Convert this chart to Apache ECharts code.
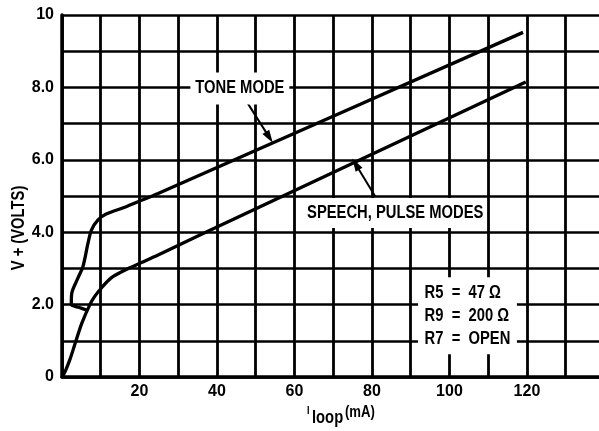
<!DOCTYPE html>
<html>
<head>
<meta charset="utf-8">
<title>V+ vs Iloop</title>
<script src="https://cdn.jsdelivr.net/npm/echarts@6/dist/echarts.min.js"></script>
<style>
	html, body { margin: 0; padding: 0; background: #fff; }
	#chart { width: 599px; height: 431px; }
</style>
</head>
<body>
<div id="chart"></div>
<script>
// tick labels
var xLabelValues = [20, 40, 60, 80, 100, 120];
var yLabelValues = [0, 2, 4, 6, 8, 10];
var yLabelTexts = ['0', '2.0', '4.0', '6.0', '8.0', '10'];

// TONE MODE curve (mA, volts)
var toneCurrent = [6.3, 4.5, 2.4, 2.5, 4.1, 5.4, 6.7, 7.6, 9.3, 11.4, 16.2, 20.5, 24.8, 119];
var toneVoltage = [1.85, 1.92, 2.0, 2.3, 2.73, 3.05, 3.69, 4.06, 4.34, 4.5, 4.69, 4.88, 5.07, 9.52];

// SPEECH, PULSE MODES curve
var speechCurrent = [0, 0.8, 2.1, 3.4, 5.1, 7.2, 8.4, 10.5, 12.7, 16.2, 20.5, 24.8, 35.6, 119.7];
var speechVoltage = [0, 0.15, 0.5, 0.93, 1.48, 2.0, 2.22, 2.5, 2.74, 2.95, 3.16, 3.37, 3.92, 8.15];

var FONT = '"Liberation Sans", Arial, sans-serif';
var NARROW = 0.82; // squeeze text towards a condensed face

function pairs(xs, ys) {
	var out = [];
	for (var i = 0; i < xs.length; i++) out.push([xs[i], ys[i]]);
	return out;
}

function arrow(from, to) {
	return [
		{ coord: from, symbol: 'none' },
		{ coord: to, symbol: 'triangle', symbolSize: [8, 13] }
	];
}

var chart = echarts.init(document.getElementById('chart'), null, { renderer: 'canvas' });
var option = {
	animation: false,
	backgroundColor: '#fff',
	grid: { left: 62, top: 15, right: 0, bottom: 54 },
	xAxis: {
		type: 'value',
		min: 0,
		max: 138.6,
		interval: 10,
		axisLine: { show: true, lineStyle: { color: '#000', width: 3.5 } },
		axisTick: { show: false },
		axisLabel: {
			margin: 7,
			color: '#000',
			fontFamily: FONT,
			fontWeight: 'bold',
			fontSize: 16,
			showMaxLabel: false,
			formatter: function (v) {
				return xLabelValues.indexOf(v) >= 0 ? String(v) : '';
			}
		},
		splitLine: { show: true, showMaxLine: false, lineStyle: { color: '#000', width: 2.8 } }
	},
	yAxis: {
		type: 'value',
		min: 0,
		max: 10,
		interval: 1,
		axisLine: { show: true, lineStyle: { color: '#000', width: 3.5 } },
		axisTick: { show: false },
		axisLabel: {
			margin: 8,
			color: '#000',
			fontFamily: FONT,
			fontWeight: 'bold',
			fontSize: 16,
			formatter: function (v) {
				var i = yLabelValues.indexOf(v);
				return i >= 0 ? yLabelTexts[i] : '';
			}
		},
		splitLine: { show: true, lineStyle: { color: '#000', width: 2.6 } }
	},
	series: [
		{
			name: 'TONE MODE',
			type: 'line',
			data: pairs(toneCurrent, toneVoltage),
			smooth: 0.3,
			symbol: 'none',
			silent: true,
			lineStyle: { color: '#000', width: 3.3 },
			markLine: {
				silent: true,
				label: { show: false },
				lineStyle: { color: '#000', width: 2, type: 'solid' },
				data: [arrow([47.7, 7.6], [53.5, 6.62])]
			}
		},
		{
			name: 'SPEECH, PULSE MODES',
			type: 'line',
			data: pairs(speechCurrent, speechVoltage),
			smooth: 0.3,
			symbol: 'none',
			silent: true,
			lineStyle: { color: '#000', width: 3.3 },
			markLine: {
				silent: true,
				label: { show: false },
				lineStyle: { color: '#000', width: 2, type: 'solid' },
				data: [arrow([80.9, 4.98], [75.8, 5.88])]
			}
		}
	]
};
chart.setOption(option);

// text boxes placed at data coordinates
var notes = [
	{ id: 'tone', text: 'TONE MODE', at: [45.9, 7.97], align: 'center', padding: [6, 6, 6, 6] },
	{ id: 'speech', text: 'SPEECH, PULSE MODES', at: [86.0, 4.53], align: 'center', padding: [5, 4, 5, 4] },
	{ id: 'rbox', text: 'R5  =  47 Ω\nR9  =  200 Ω\nR7  =  OPEN', at: [91.9, 1.69], align: 'left', padding: [4, 8, 4, 8], lineHeight: 23 }
];

var graphics = notes.map(function (n) {
	var p = chart.convertToPixel({ gridIndex: 0 }, n.at);
	return {
		id: n.id,
		type: 'text',
		x: p[0],
		y: p[1],
		scaleX: NARROW,
		z: 10,
		silent: true,
		style: {
			text: n.text,
			fill: '#000',
			font: 'bold 18px ' + FONT,
			align: n.align,
			verticalAlign: 'middle',
			lineHeight: n.lineHeight || 20,
			backgroundColor: '#fff',
			padding: n.padding
		}
	};
});

// axis names
graphics.push(
	{
		id: 'yname', type: 'text', x: 19, y: 228, rotation: Math.PI / 2, scaleX: NARROW, silent: true,
		style: { text: 'V + (VOLTS)', fill: '#000', font: 'bold 18px ' + FONT, align: 'center', verticalAlign: 'middle' }
	},
	{
		id: 'xname-i', type: 'text', x: 307, y: 405, scaleX: NARROW, silent: true,
		style: { text: 'I', fill: '#000', font: 'bold 11px ' + FONT, align: 'left', verticalAlign: 'top' }
	},
	{
		id: 'xname-loop', type: 'text', x: 312, y: 409, scaleX: NARROW, silent: true,
		style: { text: 'loop', fill: '#000', font: 'bold 18px ' + FONT, align: 'left', verticalAlign: 'top' }
	},
	{
		id: 'xname-unit', type: 'text', x: 345, y: 405, scaleX: NARROW, silent: true,
		style: { text: '(mA)', fill: '#000', font: 'bold 16px ' + FONT, align: 'left', verticalAlign: 'top' }
	}
);

chart.setOption({ graphic: graphics });
window.addEventListener('resize', chart.resize);
</script>
</body>
</html>
